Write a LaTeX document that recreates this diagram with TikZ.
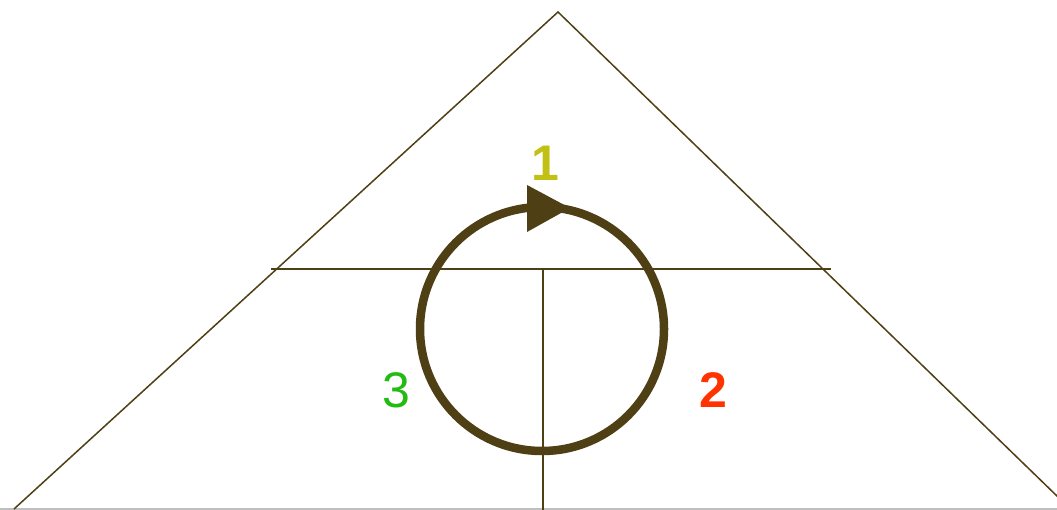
\documentclass[tikz,border=0pt]{standalone}
\usepackage{fontspec}
\setmainfont{Liberation Sans}
\definecolor{brn}{HTML}{4F3F14}
\definecolor{cone}{HTML}{C2C014}
\definecolor{ctwo}{HTML}{FF3300}
\definecolor{cthree}{HTML}{22BB11}
\begin{document}
\begin{tikzpicture}[x=1pt,y=-1pt,
  thin line/.style={draw=brn,line width=1.5pt},
  lbl/.style={font=\fontsize{50}{50}\selectfont,inner sep=0pt}]
\useasboundingbox (0,0) rectangle (1057,510);
\fill[white] (0,0) rectangle (1057,510);
\coordinate (apex) at (558,12);
\coordinate (bl) at (14,509);
\coordinate (br) at (1058,497);
\coordinate (hl) at (271,269);
\coordinate (hr) at (831,269);
\coordinate (vt) at (543,269);
\coordinate (vb) at (543,510);
\coordinate (c) at (542,329);
\draw[gray!50,line width=1.5pt] (0,509.2) -- (1057,509.2);
\draw[thin line] (bl) -- (apex) -- (br);
\draw[thin line] (hl) -- (hr);
\draw[thin line] (vt) -- (vb);
\draw[brn,line width=8.5pt] (c) circle[radius=122];
\fill[brn] (527,185) -- (570,208) -- (527,232) -- cycle;
\node[lbl,text=cone] (one) at (545,163) {\textbf{1}};
\node[lbl,text=ctwo] (two) at (713,390) {\textbf{2}};
\node[lbl,text=cthree] (three) at (396,390) {3};
\end{tikzpicture}
\end{document}
